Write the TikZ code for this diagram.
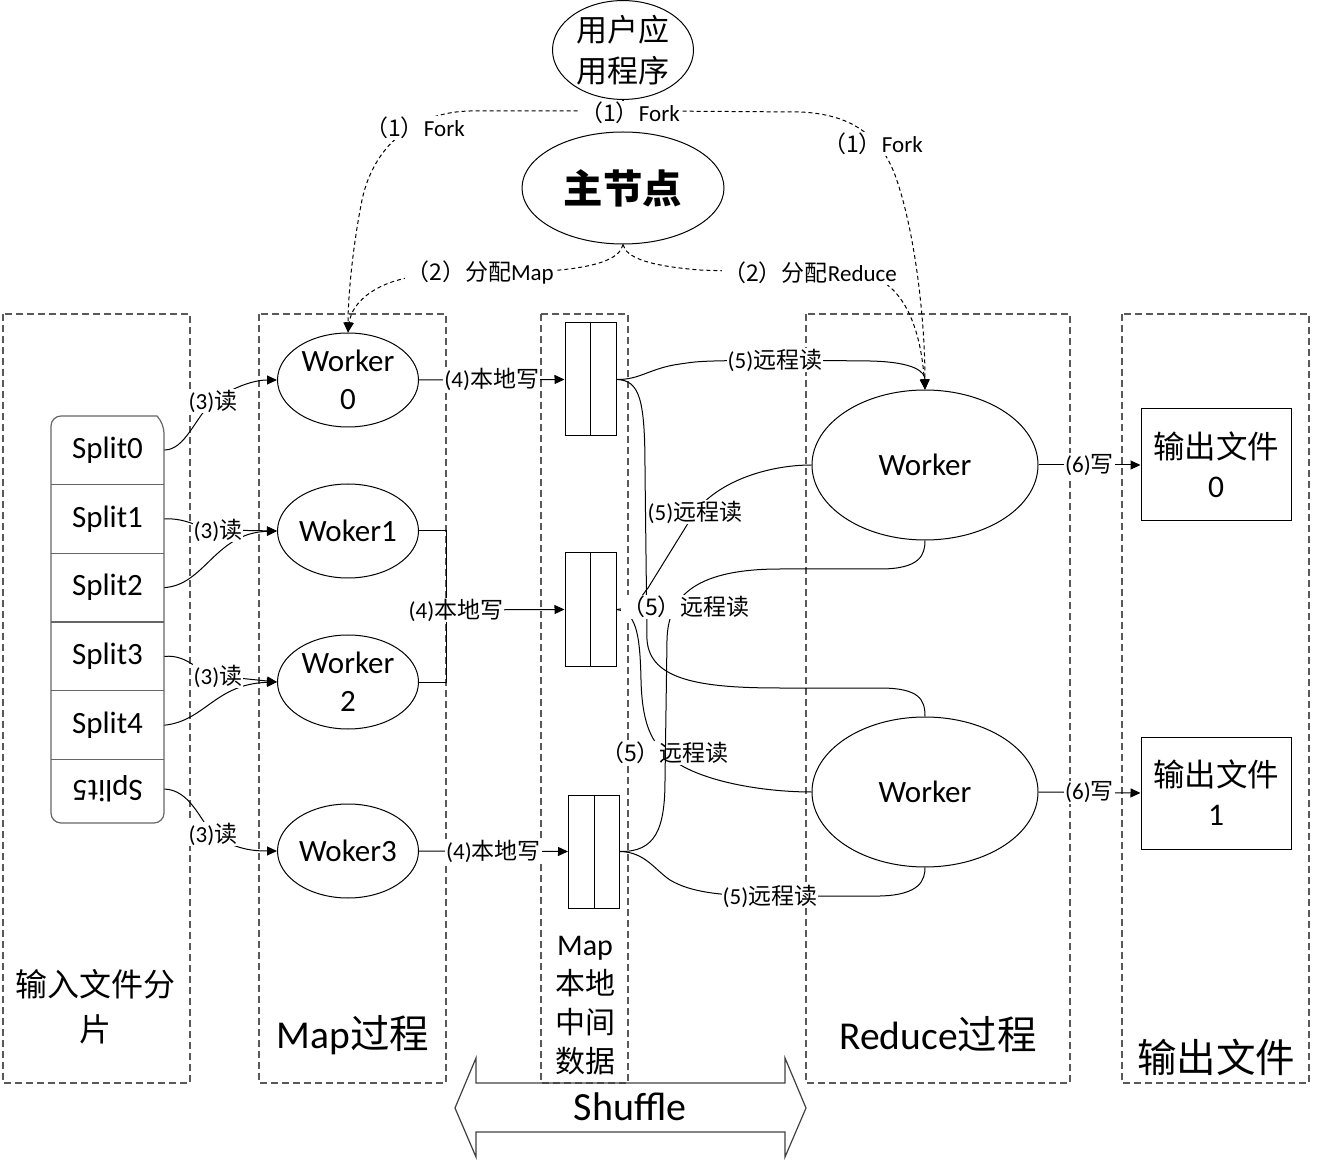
\documentclass[tikz,border=0pt]{standalone}
\usepackage{fontspec}
\setmainfont{Carlito}
\newfontfamily\cjkfont{Noto Sans CJK SC}
\newcommand{\zh}[1]{{\cjkfont #1}}
\usetikzlibrary{arrows.meta,shapes.geometric,positioning}
\tikzset{
  every node/.style={
    font=\fontsize{11.5}{13}\selectfont
  },
  lane/.style={
    draw=black!65,
    line width=0.6pt,
    dash pattern=on 3.5pt off 2pt
  },
  mapworker/.style={
    shape=ellipse,
    draw,
    line width=0.5pt,
    minimum width=70.5pt,
    minimum height=47pt,
    inner sep=0pt,
    align=center,
    font=\fontsize{15.5}{19}\selectfont
  },
  redworker/.style={
    mapworker,
    minimum width=113pt,
    minimum height=75pt
  },
  splitcell/.style={
    minimum width=56.5pt,
    minimum height=34pt,
    inner sep=0pt,
    font=\fontsize{15.5}{19}\selectfont
  },
  splitedge/.style={
    draw=black!60,
    line width=0.6pt
  },
  bufbox/.style={
    draw,
    line width=0.5pt,
    minimum width=25.5pt,
    minimum height=56.5pt,
    inner sep=0pt
  },
  outbox/.style={
    draw,
    line width=0.5pt,
    minimum width=75pt,
    minimum height=56pt,
    align=center,
    font=\fontsize{15.75}{19.5}\selectfont
  },
  lbl/.style={
    fill=white,
    inner sep=0.5pt
  },
  conn/.style={
    line width=0.5pt
  },
  arr/.style={
    conn,
    -{Triangle[length=5pt,width=4.5pt]}
  },
  forkline/.style={
    line width=0.5pt,
    dash pattern=on 2pt off 1.5pt
  },
  forkarr/.style={
    forkline,
    -{Triangle[length=5pt,width=4.5pt]}
  },
  lanetitle/.style={
    align=center,
    font=\fontsize{19.75}{24}\selectfont
  }
}
\begin{document}
\begin{tikzpicture}[x=0.5pt,y=-0.5pt]
  \useasboundingbox (0,0) rectangle (1317,1165);

  % lanes
  \draw[lane] (3,314) rectangle (190,1083);
  \draw[lane] (259,314) rectangle (446,1083);
  \draw[lane] (541,314) rectangle (628,1083);
  \draw[lane] (806,314) rectangle (1070,1083);
  \draw[lane] (1122,314) rectangle (1309,1083);

  % top
  \node[mapworker, minimum width=70.5pt, minimum height=45pt,
    font=\fontsize{15.5}{20.5}\selectfont] (app) at (623,50) {\zh{用户应}\\\zh{用程序}};
  \node[mapworker, minimum width=101pt, minimum height=56pt,
    font=\fontsize{19.7}{24}\selectfont\bfseries] (master) at (623,188) {\zh{主节点}};

  % input splits
  \node[splitcell] (split0) at (107.5,450) {Split0};
  \node[splitcell, below=0pt of split0] (split1) {Split1};
  \node[splitcell, below=0pt of split1] (split2) {Split2};
  \node[splitcell, below=0pt of split2] (split3) {Split3};
  \node[splitcell, below=0pt of split3] (split4) {Split4};
  \node[splitcell, rotate=180] (split5) at (107.5,789) {Split5};
  \draw[splitedge, rounded corners=5pt] (164,600) -- (164,423) [sharp corners] -- (157,416)
    [rounded corners=5pt] -- (51,416) -- (51,823) -- (164,823) -- cycle;
  \foreach \i in {0,...,4}
    \draw[splitedge] (split\i.south west) -- (split\i.south east);

  % map workers
  \node[mapworker] (mw0) at (348,380) {Worker\\0};
  \node[mapworker] (mw1) at (348,531) {Woker1};
  \node[mapworker] (mw2) at (348,682) {Worker\\2};
  \node[mapworker] (mw3) at (348,851) {Woker3};

  % map local buffers
  \node[bufbox] (buf0) at (590.5,379.5) {};
  \node[bufbox] (buf1) at (590.5,609.5) {};
  \node[bufbox] (buf2) at (594,851.5) {};
  \foreach \b in {buf0,buf1,buf2}
    \draw[conn] (\b.north) -- (\b.south);

  % reduce workers and output files
  \node[redworker] (rw0) at (925,465) {Worker};
  \node[redworker] (rw1) at (925,792) {Worker};
  \node[outbox] (out0) at (1216,465) {\zh{输出文件}\\0};
  \node[outbox] (out1) at (1216,793) {\zh{输出文件}\\1};

  % lane titles
  \node[align=center, font=\fontsize{16}{22.5}\selectfont] (t1) at (96,1007) {\zh{输入文件分}\\\zh{片}};
  \node[lanetitle] (t2) at (353,1035) {Map\zh{过程}};
  \node[align=center, font=\fontsize{15}{19.5}\selectfont] (t3) at (585,1006)
    {Map\\\zh{本地}\\\zh{中间}\\\zh{数据}};
  \node[lanetitle] (t4) at (938,1035) {Reduce\zh{过程}};
  \node[lanetitle] (t5) at (1216,1057) {\zh{输出文件}};

  % shuffle
  \node[font=\fontsize{20}{24}\selectfont] (shuffle) at (630,1107) {Shuffle};
  \draw[line width=0.6pt, draw=black!75] (455,1108) -- (476,1058) -- (476,1083) -- (785,1083)
    -- (785,1058) -- (806,1108) -- (785,1157) -- (785,1132) -- (476,1132) -- (476,1157) -- cycle;

  % (1) fork
  \draw[forkarr] (app.south) .. controls (623,104) and (612,111) .. (590,111) -- (470,111)
    .. controls (420,112) and (375,140) .. (362,200) .. controls (352,250) and (348,300) .. (mw0.north);
  \draw[forkarr] (app.south) .. controls (623,104) and (634,111) .. (656,111) -- (800,112)
    .. controls (850,114) and (880,135) .. (895,175) .. controls (915,230) and (925,320) .. (rw0.north);
  % (2) assign
  \draw[forkarr] (master.south) .. controls (620,258) and (600,266) .. (560,270) -- (420,276)
    .. controls (380,280) and (352,300) .. (mw0.north);
  \draw[forkarr] (master.south) .. controls (626,258) and (650,266) .. (700,270) -- (870,276)
    .. controls (900,285) and (920,320) .. (rw0.north);
  \node[lbl] at (630,113) {\zh{（1）}Fork};
  \node[lbl] at (415,128) {\zh{（1）}Fork};
  \node[lbl] at (873,144) {\zh{（1）}Fork};
  \node[lbl] at (480,273) {\zh{（2）分配}Map};
  \node[lbl] at (810,273) {\zh{（2）分配}Reduce};

  % (3) read
  \draw[arr] (split0.east) .. controls (185,450) and (195,418) .. (213,401) node[lbl] {(3)\zh{读}}
    .. controls (235,386) and (255,380) .. (mw0.west);
  \draw[arr] (split2.east) .. controls (205,585) and (215,533) .. (mw1.west);
  \draw[arr] (split1.east) .. controls (190,518) and (200,530) .. (218,530) node[lbl] {(3)\zh{读}}
    -- (mw1.west);
  \draw[arr] (split4.east) .. controls (205,721) and (215,684) .. (mw2.west);
  \draw[arr] (split3.east) .. controls (190,654) and (200,676) .. (218,676) node[lbl] {(3)\zh{读}}
    -- (mw2.west);
  \draw[arr] (split5.west) .. controls (190,790) and (200,820) .. (213,834) node[lbl] {(3)\zh{读}}
    .. controls (235,850) and (255,851) .. (mw3.west);

  % (4) local write
  \draw[arr] (mw0.east) -- node[lbl] {(4)\zh{本地写}} (buf0.west);
  \draw[conn] (mw1.east) -- (446,531) -- (446,682) -- (mw2.east);
  \coordinate (join) at (446,610);
  \draw[arr] (join) -- (buf1.west);
  \node[lbl] at (456,610) {(4)\zh{本地写}};
  \draw[arr] (mw3.east) -- node[lbl] {(4)\zh{本地写}} (buf2.west);

  % (5) remote read
  \draw[arr] (buf0.east) .. controls (640,380) and (650,368) .. (680,364)
    .. controls (700,361) .. (775,360) node[lbl] {(5)\zh{远程读}} -- (870,361)
    .. controls (915,362) and (925,372) .. (rw0.north);
  \draw[conn] (buf0.east) .. controls (640,380) and (645,400) .. (645,470) -- (647,640)
    .. controls (650,680) and (700,688) .. (780,688) -- (880,688)
    .. controls (920,688) and (925,700) .. (rw1.north);
  \draw[conn] (buf1.east) .. controls (635,608) and (640,598) .. (648,588) -- (695,512)
    node[lbl] {(5)\zh{远程读}} .. controls (720,480) and (770,465) .. (rw0.west);
  \draw[conn] (buf1.east) .. controls (635,612) and (640,630) .. (641,680)
    .. controls (642,720) and (650,740) .. (665,753) node[lbl] {\zh{（5）远程读}}
    .. controls (690,780) and (760,792) .. (rw1.west);
  \draw[conn] (buf2.east) .. controls (655,852) and (665,830) .. (665,780) -- (667,640)
    .. controls (668,600) and (690,569) .. (780,569) -- (880,569)
    .. controls (920,569) and (925,555) .. (rw0.south);
  \draw[conn] (buf2.east) .. controls (645,852) and (655,870) .. (670,880)
    .. controls (690,892) and (720,896) .. (770,896) node[lbl] {(5)\zh{远程读}} -- (880,896)
    .. controls (920,895) and (925,880) .. (rw1.south);
  \node[lbl] at (686,607) {\zh{（5）远程读}};

  % (6) write
  \draw[arr] (rw0.east) -- node[lbl] {(6)\zh{写}} (out0.west);
  \draw[arr] (rw1.east) -- node[lbl] {(6)\zh{写}} (out1.west);
\end{tikzpicture}
\end{document}
